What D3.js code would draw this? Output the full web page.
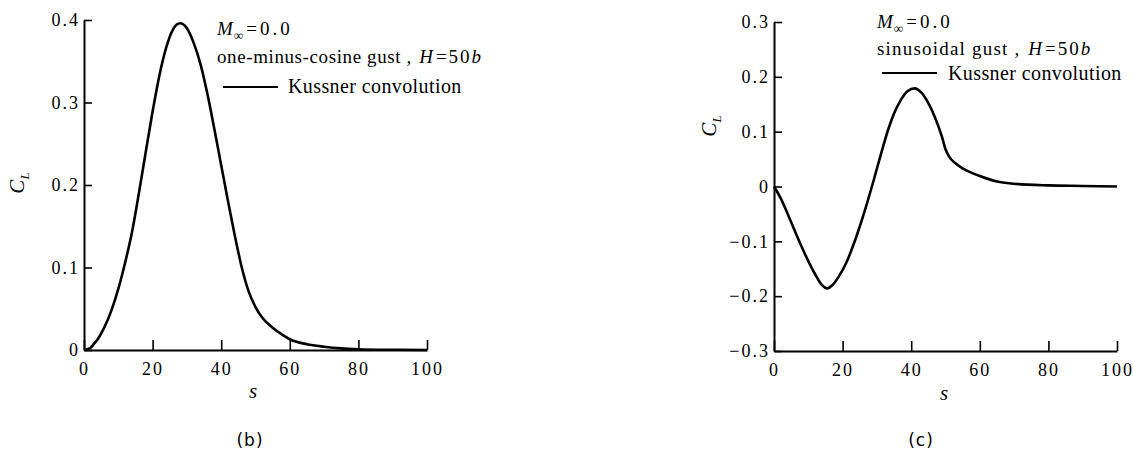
<!DOCTYPE html>
<html>
<head>
<meta charset="utf-8">
<script src="https://cdn.jsdelivr.net/npm/d3@7"></script>
<style>
  body { margin: 0; background: #fff; }
</style>
</head>
<body>
<svg id="fig" width="1133" height="451"></svg>
<script>
// Lift coefficient response, one-minus-cosine gust (H = 50b)
const sCosine  = [0, 1, 2, 3, 4, 5, 6, 8, 10, 12, 14, 16, 18, 20, 22, 24, 26, 28, 30, 32, 34, 36, 38, 40, 42, 44, 46, 48, 50, 52, 55, 58, 60, 65, 70, 75, 80, 90, 100];
const clCosine = [0, 0.001, 0.003, 0.008, 0.013, 0.020, 0.028, 0.048, 0.074, 0.106, 0.143, 0.190, 0.240, 0.289, 0.333, 0.367, 0.389, 0.396, 0.390, 0.372, 0.346, 0.310, 0.268, 0.224, 0.180, 0.138, 0.100, 0.071, 0.052, 0.039, 0.027, 0.018, 0.013, 0.007, 0.004, 0.002, 0.001, 0.0003, 0];

// Lift coefficient response, sinusoidal gust (H = 50b)
const sSine  = [0, 2, 4, 6, 8, 10, 12, 14, 15.5, 17, 19, 21, 23, 25, 27, 29, 31, 33, 35, 37, 39, 41, 43, 45, 47, 49, 50, 51, 53, 55, 58, 60, 65, 70, 80, 90, 100];
const clSine = [0, -0.022, -0.050, -0.080, -0.109, -0.136, -0.160, -0.180, -0.186, -0.180, -0.163, -0.140, -0.109, -0.073, -0.033, 0.010, 0.055, 0.098, 0.133, 0.158, 0.174, 0.179, 0.171, 0.152, 0.125, 0.090, 0.068, 0.055, 0.042, 0.033, 0.024, 0.019, 0.009, 0.005, 0.002, 0.001, 0];

// Axis ticks and their labels
const sTicks = [0, 20, 40, 60, 80, 100];
const sTickLabels = ["0", "20", "40", "60", "80", "100"];
const cosineTicks = [0, 0.1, 0.2, 0.3, 0.4];
const cosineTickLabels = ["0", "0.1", "0.2", "0.3", "0.4"];
const sineTicks = [-0.3, -0.2, -0.1, 0, 0.1, 0.2, 0.3];
const sineTickLabels = ["\u22120.3", "\u22120.2", "\u22120.1", "0", "0.1", "0.2", "0.3"];

const SERIF = "'Liberation Serif'";
const svg = d3.select("#fig");

// Text made of runs: italics and subscripts
function richText(g, x, y, runs, size) {
  const t = g.append("text").attr("x", x).attr("y", y)
    .attr("font-size", size).style("font-family", SERIF).attr("fill", "#000");
  let shift = 0;
  runs.forEach(r => {
    const sp = t.append("tspan").text(r.t);
    const target = r.sub ? size * 0.28 : 0;
    const dy = target - shift;
    if (dy !== 0) sp.attr("dy", dy);
    shift = target;
    if (r.italic) sp.attr("font-style", "italic");
    if (r.sub) sp.attr("font-size", size * 0.7);
    if (r.dx) sp.attr("dx", r.dx);
    if (r.ls != null) sp.attr("letter-spacing", r.ls);
  });
  return t;
}

function panel(cfg) {
  const x = d3.scaleLinear().domain([0, 100]).range([cfg.x0, cfg.x1]);
  const y = d3.scaleLinear().domain(cfg.yDomain).range([cfg.yBottom, cfg.yTop]);
  const g = svg.append("g");

  // y axis with inward ticks
  const ya = g.append("g").attr("transform", `translate(${cfg.x0},0)`)
    .call(d3.axisLeft(y).tickValues(cfg.yTicks)
      .tickFormat((d, i) => cfg.yTickLabels[i])
      .tickSize(-8).tickSizeOuter(0).tickPadding(4));
  // x axis with inward ticks
  const xa = g.append("g").attr("transform", `translate(0,${cfg.yBottom})`)
    .call(d3.axisBottom(x).tickValues(sTicks)
      .tickFormat((d, i) => sTickLabels[i])
      .tickSize(-10).tickSizeOuter(0).tickPadding(12));
  [ya, xa].forEach(a => {
    a.attr("font-family", null).attr("font-size", null);
    a.select(".domain").attr("stroke", "#000").attr("stroke-width", 2);
    a.selectAll(".tick line").attr("stroke", "#000").attr("stroke-width", 1.6);
    a.selectAll(".tick text").attr("font-size", 18).attr("letter-spacing", 2)
      .style("font-family", SERIF).attr("fill", "#000");
  });

  // response curve
  const pts = cfg.s.map((s, i) => [s, cfg.cl[i]]);
  g.append("path").datum(pts)
    .attr("fill", "none").attr("stroke", "#000").attr("stroke-width", 2.6)
    .attr("stroke-linejoin", "round")
    .attr("d", d3.line().x(d => x(d[0])).y(d => y(d[1])).curve(d3.curveMonotoneX));

  // axis titles
  const yl = g.append("text")
    .attr("transform", `translate(${cfg.yLabel[0]},${cfg.yLabel[1]}) rotate(-90)`)
    .attr("text-anchor", "middle").attr("font-size", 21).style("font-family", SERIF);
  yl.append("tspan").attr("font-style", "italic").text("C");
  yl.append("tspan").attr("font-style", "italic").attr("font-size", 13).attr("dy", 5).text("L");

  g.append("text").attr("x", cfg.sLabel[0]).attr("y", cfg.sLabel[1])
    .attr("text-anchor", "middle").attr("font-size", 21).attr("font-style", "italic")
    .style("font-family", SERIF).text("s");

  g.append("text").attr("x", cfg.caption[0]).attr("y", cfg.caption[1])
    .attr("text-anchor", "middle").attr("font-size", 17).attr("letter-spacing", 1)
    .style("font-family", "'DejaVu Sans'").text(cfg.captionText);

  // annotation and legend
  const L = cfg.legend;
  richText(g, L.x, L.y1, [
    { t: "M", italic: true },
    { t: "\u221E", sub: true, dx: 1 },
    { t: "=0.0", ls: 3, dx: 3 }
  ], 19);
  richText(g, L.x, L.y2, [
    { t: cfg.gustText, ls: cfg.gustSpacing },
    { t: "H", italic: true, dx: 2 },
    { t: "=50", ls: 2, dx: 3 },
    { t: "b", italic: true }
  ], 19);
  g.append("line").attr("x1", L.lx0).attr("x2", L.lx1).attr("y1", L.ly).attr("y2", L.ly)
    .attr("stroke", "#000").attr("stroke-width", 2);
  g.append("text").attr("x", L.tx).attr("y", L.ty).attr("font-size", 20)
    .attr("letter-spacing", 0.4).style("font-family", SERIF).text("Kussner convolution");
}

panel({
  x0: 84, x1: 427, yBottom: 350, yTop: 20, yDomain: [0, 0.4],
  yTicks: cosineTicks, yTickLabels: cosineTickLabels,
  s: sCosine, cl: clCosine,
  yLabel: [24, 183], sLabel: [253, 398], caption: [250, 446], captionText: "(b)",
  gustText: "one-minus-cosine gust , ", gustSpacing: 0.6,
  legend: { x: 217, y1: 35, y2: 63, lx0: 223, lx1: 278, ly: 87, tx: 288, ty: 93 }
});

panel({
  x0: 774, x1: 1117, yBottom: 351, yTop: 22, yDomain: [-0.3, 0.3],
  yTicks: sineTicks, yTickLabels: sineTickLabels,
  s: sSine, cl: clSine,
  yLabel: [716, 126], sLabel: [944, 400], caption: [921, 446], captionText: "(c)",
  gustText: "sinusoidal gust , ", gustSpacing: 1.2,
  legend: { x: 877, y1: 28, y2: 55, lx0: 882, lx1: 937, ly: 73, tx: 948, ty: 80 }
});
</script>
</body>
</html>
